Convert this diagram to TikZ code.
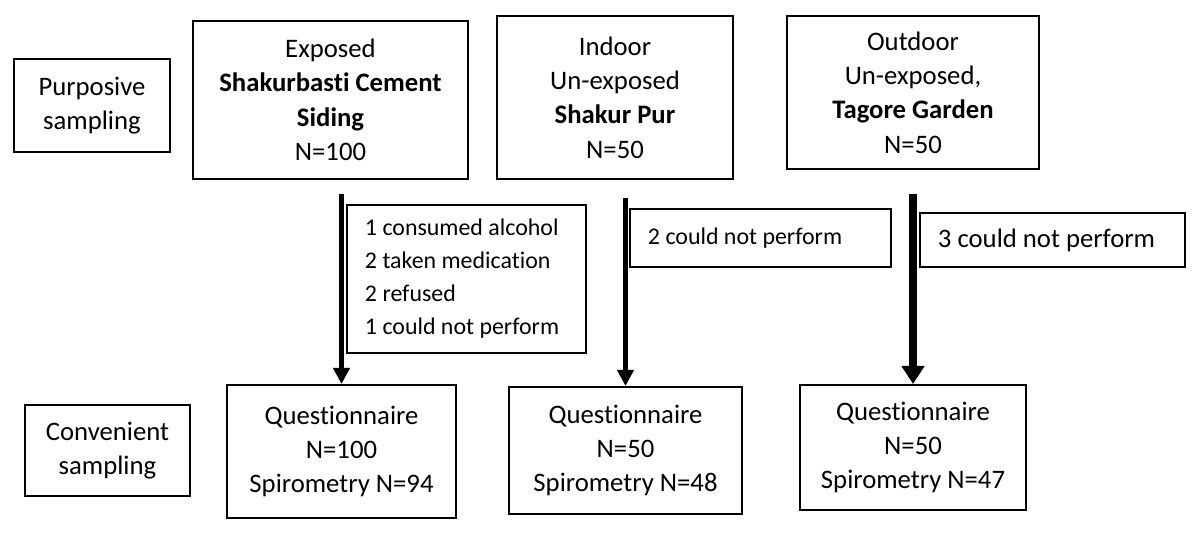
\documentclass[tikz,border=0pt]{standalone}
\usepackage{fontspec}
\setmainfont{Carlito}[Ligatures=CommonOff]
\usetikzlibrary{arrows.meta, positioning}

\begin{document}
\begin{tikzpicture}[
        x=0.025cm, y=-0.025cm,
        box/.style={draw, line width=1.4pt, align=center, inner sep=0pt, font=\fontsize{19}{24.5}\selectfont},
        reason/.style={box, align=left, inner xsep=0.45cm, execute at begin node={\spaceskip=0pt\xspaceskip=0pt}},
        flow/.style={-{Triangle[width=0.4cm, length=0.4cm]}, line width=0.13cm},
        heavyflow/.style={-{Triangle[width=0.55cm, length=0.45cm]}, line width=0.2cm}
    ]
        \useasboundingbox (0, 0) rectangle (1200, 537);

        % Sampling labels
        \node[box, minimum width=3.875cm, minimum height=2.325cm] (purposive) at (92, 105.5) {Purposive\\sampling};
        \node[box, minimum width=4.125cm, minimum height=2.275cm] (convenient) at (107.5, 450.5) {Convenient\\sampling};

        % Sites
        \node[box, minimum width=6.875cm, minimum height=3.95cm] (exposed) at (330.5, 100) {
            Exposed\\
            \bfseries Shakurbasti Cement\\
            \bfseries Siding\\
            N=100
        };
        \node[box, minimum width=5.9cm, minimum height=4.075cm] (indoor) at (615, 97.5) {
            Indoor\\
            Un-exposed\\
            \bfseries Shakur Pur\\
            N=50
        };
        \node[box, minimum width=6.3cm, minimum height=3.825cm] (outdoor) at (913, 92.5) {
            Outdoor\\
            Un-exposed,\\
            \bfseries Tagore Garden\\
            N=50
        };

        % Exclusions
        \node[reason, text width=5.075cm, minimum height=3.7cm, font=\fontsize{17}{23.5}\selectfont] (excl1) at (466.5, 279) {
            1 consumed alcohol\\
            2 taken medication\\
            2 refused\\
            1 could not perform
        };
        \node[reason, text width=5.625cm, minimum height=1.45cm, font=\fontsize{17}{23.5}\selectfont] (excl2) at (760.5, 238) {2 could not perform};
        \node[reason, text width=5.725cm, minimum height=1.35cm] (excl3) at (1052.5, 240) {3 could not perform};

        % Results
        \node[box, minimum width=5.725cm, minimum height=3.325cm] (res1) at (341.5, 451.5) {
            Questionnaire\\
            N=100\\
            Spirometry N=94
        };
        \node[box, minimum width=5.825cm, minimum height=3.175cm] (res2) at (625.5, 450.5) {
            Questionnaire\\
            N=50\\
            Spirometry N=48
        };
        \node[box, minimum width=5.65cm, minimum height=3.125cm] (res3) at (913, 447.5) {
            Questionnaire\\
            N=50\\
            Spirometry N=47
        };

        % Arrows
        \draw[flow, shorten <=0.35cm] (exposed.south -| res1.north) -- (res1.north);
        \draw[flow, shorten <=0.45cm] (indoor.south -| res2.north) -- (res2.north);
        \draw[heavyflow, shorten <=0.6cm] (outdoor.south -| res3.north) -- (res3.north);
    \end{tikzpicture}
\end{document}
